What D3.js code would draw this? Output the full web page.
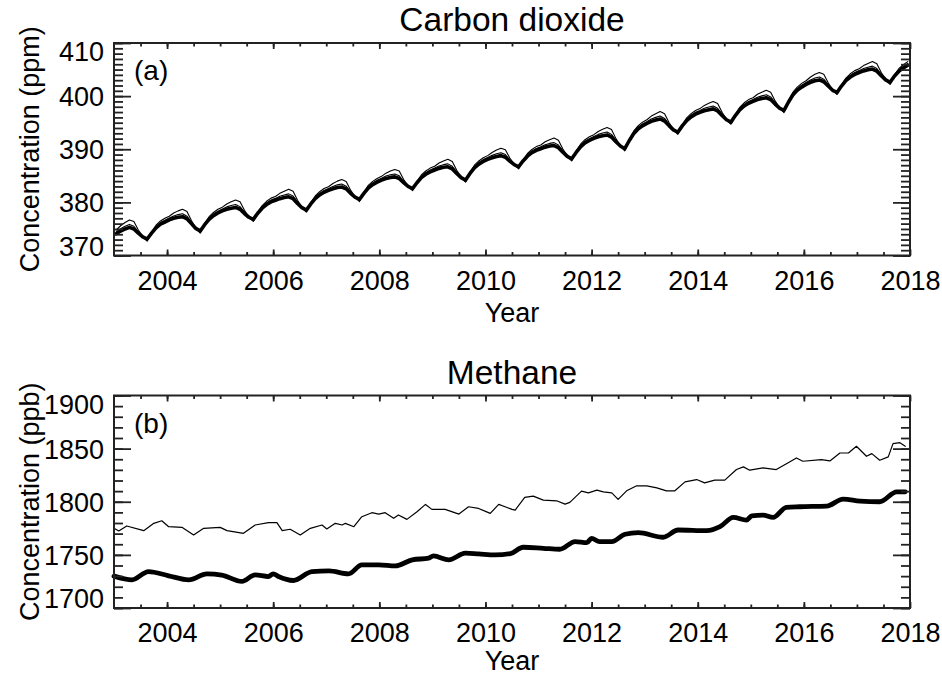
<!DOCTYPE html>
<html>
<head>
<meta charset="utf-8">
<script src="https://cdn.jsdelivr.net/npm/d3@7"></script>
<style>
body{margin:0;background:#fff}
svg text{font-family:"Liberation Sans",Arial,Helvetica,sans-serif;fill:#000}
</style>
</head>
<body>
<svg width="942" height="675"></svg>
<script>
// monthly CO2 (ppm), Jan 2003 .. Dec 2017, one row per year
var co2StartYear = 2003
var co2Thick = [
  374.1,374.6,375.0,375.3,375.0,374.2,373.5,373.1,374.2,375.2,375.9,376.3,
  376.7,377.0,377.2,377.3,376.9,376.0,375.1,374.6,375.8,376.8,377.5,378.0,
  378.4,378.7,378.9,379.05,378.7,377.9,377.2,376.8,377.95,378.9,379.6,380.1,
  380.4,380.7,380.9,381.05,380.7,379.8,379.0,378.55,379.7,380.7,381.4,381.9,
  382.25,382.55,382.8,382.9,382.55,381.7,381.0,380.55,381.7,382.7,383.35,383.8,
  384.2,384.5,384.7,384.8,384.5,383.7,383.0,382.6,383.7,384.65,385.3,385.75,
  386.1,386.4,386.6,386.7,386.3,385.45,384.65,384.2,385.45,386.5,387.2,387.7,
  388.1,388.4,388.65,388.8,388.5,387.75,387.1,386.7,387.8,388.7,389.35,389.8,
  390.1,390.4,390.6,390.7,390.3,389.45,388.65,388.2,389.4,390.45,391.2,391.65,
  392.05,392.35,392.55,392.7,392.3,391.4,390.6,390.1,391.6,392.9,393.8,394.4,
  394.85,395.25,395.5,395.7,395.3,394.45,393.65,393.2,394.4,395.4,396.1,396.6,
  396.95,397.25,397.45,397.6,397.2,396.35,395.55,395.1,396.35,397.4,398.15,398.65,
  399.0,399.35,399.55,399.7,399.35,398.5,397.75,397.3,398.85,400.2,401.1,401.7,
  402.2,402.6,402.9,403.05,402.7,401.9,401.1,400.7,401.9,402.9,403.6,404.1,
  404.45,404.75,404.95,405.1,404.7,403.85,403.05,402.6,403.8,404.7,405.3,405.8
]
var co2ThinHi = [
  374.8,375.6,376.2,376.7,376.4,374.8,373.6,372.7,374.4,375.7,376.5,377.0,
  377.4,378.0,378.4,378.7,378.3,376.6,375.2,374.2,376.0,377.3,378.1,378.7,
  379.1,379.7,380.1,380.45,380.1,378.5,377.3,376.4,378.15,379.4,380.2,380.8,
  381.1,381.7,382.1,382.45,382.1,380.4,379.1,378.15,379.9,381.2,382.0,382.6,
  382.95,383.55,384.0,384.3,383.95,382.3,381.1,380.15,381.9,383.2,383.95,384.5,
  384.9,385.5,385.9,386.2,385.9,384.3,383.1,382.2,383.9,385.15,385.9,386.45,
  386.8,387.4,387.8,388.1,387.7,386.05,384.75,383.8,385.65,387.0,387.8,388.4,
  388.8,389.4,389.85,390.2,389.9,388.35,387.2,386.3,388.0,389.2,389.95,390.5,
  390.8,391.4,391.8,392.1,391.7,390.05,388.75,387.8,389.6,390.95,391.8,392.35,
  392.75,393.35,393.75,394.1,393.7,392.0,390.7,389.7,391.8,393.4,394.4,395.1,
  395.55,396.25,396.7,397.1,396.7,395.05,393.75,392.8,394.6,395.9,396.7,397.3,
  397.65,398.25,398.65,399.0,398.6,396.95,395.65,394.7,396.55,397.9,398.75,399.35,
  399.7,400.35,400.75,401.1,400.75,399.1,397.85,396.9,399.05,400.7,401.7,402.4,
  402.9,403.6,404.1,404.45,404.1,402.5,401.2,400.3,402.1,403.4,404.2,404.8,
  405.15,405.75,406.15,406.5,406.1,404.45,403.15,402.2,404.0,405.2,405.9,406.5
]
var co2ThinMid = [
  374.45,375.05,375.5,375.85,375.5,374.45,373.5,372.85,374.25,375.4,376.2,376.65,
  377.05,377.45,377.7,377.85,377.4,376.25,375.1,374.35,375.85,377.0,377.8,378.35,
  378.75,379.15,379.4,379.6,379.2,378.15,377.2,376.55,378.0,379.1,379.9,380.45,
  380.75,381.15,381.4,381.6,381.2,380.05,379.0,378.3,379.75,380.9,381.7,382.25,
  382.6,383.0,383.3,383.45,383.05,381.95,381.0,380.3,381.75,382.9,383.65,384.15,
  384.55,384.95,385.2,385.35,385.0,383.95,383.0,382.35,383.75,384.85,385.6,386.1,
  386.45,386.85,387.1,387.25,386.8,385.7,384.65,383.95,385.5,386.7,387.5,388.05,
  388.45,388.85,389.15,389.35,389.0,388.0,387.1,386.45,387.85,388.9,389.65,390.15,
  390.45,390.85,391.1,391.25,390.8,389.7,388.65,387.95,389.45,390.65,391.5,392.0,
  392.4,392.8,393.05,393.25,392.8,391.65,390.6,389.85,391.65,393.1,394.1,394.75,
  395.2,395.7,396.0,396.25,395.8,394.7,393.65,392.95,394.45,395.6,396.4,396.95,
  397.3,397.7,397.95,398.15,397.7,396.6,395.55,394.85,396.4,397.6,398.45,399.0,
  399.35,399.8,400.05,400.25,399.85,398.75,397.75,397.05,398.9,400.4,401.4,402.05,
  402.55,403.05,403.4,403.6,403.2,402.15,401.1,400.45,401.95,403.1,403.9,404.45,
  404.8,405.2,405.45,405.65,405.2,404.1,403.05,402.35,403.85,404.9,405.6,406.15
]

// methane (ppb), read at the turning points of each curve
var ch4ThickYear = [2003.0,2003.34,2003.65,2004.03,2004.41,2004.75,2005.03,2005.41,2005.66,2005.91,
  2006.0,2006.1,2006.38,2006.73,2007.05,2007.42,2007.67,2007.99,2008.3,2008.62,2008.93,2009.02,
  2009.31,2009.62,2009.87,2010.18,2010.47,2010.71,2011.09,2011.4,2011.69,2011.91,2012.0,2012.15,
  2012.38,2012.63,2012.88,2013.35,2013.63,2014.17,2014.42,2014.67,2014.92,2015.02,2015.23,2015.42,
  2015.67,2015.92,2016.43,2016.74,2017.06,2017.43,2017.75,2017.91]
var ch4ThickVal = [1730,1726.5,1734.3,1730.3,1726.5,1732.2,1731,1725,1731.2,1729.6,
  1732.2,1729.6,1725.9,1734.3,1735,1732.2,1740.6,1740.6,1739.6,1745.3,1746.9,1749,
  1745.3,1751.6,1750.9,1750,1751.2,1757.2,1756.2,1755.3,1762.5,1761.5,1765.6,1762.5,
  1762.5,1769.4,1770.9,1766.6,1773.4,1772.8,1776.5,1785.3,1782.8,1786.8,1787.5,1785.3,
  1794.7,1795.3,1795.9,1802.5,1800.6,1800,1809.3,1809.3]
var ch4ThinYear = [2003.0,2003.09,2003.24,2003.56,2003.75,2003.9,2004.03,2004.28,2004.5,2004.69,
  2005.0,2005.13,2005.44,2005.66,2005.91,2006.07,2006.17,2006.32,2006.51,2006.7,2006.92,2007.01,
  2007.17,2007.3,2007.36,2007.52,2007.67,2007.86,2007.99,2008.11,2008.27,2008.36,2008.52,2008.71,
  2008.87,2008.99,2009.24,2009.5,2009.68,2009.87,2010.09,2010.25,2010.37,2010.5,2010.56,2010.74,
  2010.9,2011.09,2011.34,2011.5,2011.59,2011.81,2011.94,2012.1,2012.22,2012.38,2012.5,2012.66,
  2012.85,2013.04,2013.23,2013.41,2013.57,2013.76,2013.98,2014.13,2014.32,2014.51,2014.73,2014.86,
  2014.98,2015.23,2015.48,2015.73,2015.86,2015.98,2016.33,2016.49,2016.68,2016.84,2016.99,2017.18,
  2017.28,2017.43,2017.59,2017.68,2017.81,2017.91]
var ch4ThinVal = [1775,1772.5,1777.2,1772.8,1779.7,1782.1,1776.5,1775.9,1768.7,1775,
  1775.9,1772.8,1770.3,1778.1,1780.3,1780.3,1772.8,1774.1,1768.7,1775,1778.1,1774.4,
  1779.7,1778.1,1779.7,1776.5,1785.9,1789.7,1788.4,1789.7,1784.4,1787.5,1783.4,1790.6,
  1797.5,1792.8,1792.8,1788.4,1795.3,1793.7,1789.1,1797.5,1795.3,1792.8,1792.2,1804.1,
  1805.3,1801.5,1800.9,1797.8,1799.4,1810,1808.4,1810.9,1809.3,1808.4,1802.2,1810.3,
  1815,1815,1813.1,1810.3,1810.3,1818.7,1820.9,1817.8,1820.3,1820.3,1830.3,1832.8,
  1829.7,1831.9,1830.3,1837.5,1841.2,1838.1,1839.7,1838.4,1845.9,1845.9,1852.2,1842.8,
  1845.3,1839.1,1842.2,1854.7,1855.6,1852.2]

var yearTicks = [2004,2006,2008,2010,2012,2014,2016,2018]
var co2Ticks = [370,380,390,400,410]
var ch4Ticks = [1700,1750,1800,1850,1900]

var svg = d3.select('svg')
var left = 114, right = 910

var x = d3.scaleLinear().domain([2003,2018]).range([left,right])

var pts = function(years, vals){
  return years.map(function(d,i){return [d, vals[i]]})
}
var monthly = function(vals){
  return vals.map(function(v,i){return [co2StartYear + (i+0.5)/12, v]})
}

var drawPanel = function(opt){
  var y = d3.scaleLinear().domain(opt.domain).range([opt.bottom, opt.top])
  var g = svg.append('g')

  // title and panel letter
  g.append('text').attr('x',512).attr('y',opt.top-12)
    .attr('text-anchor','middle').style('font-size','33.5px').text(opt.title)
  g.append('text').attr('x',134).attr('y',opt.top+37)
    .style('font-size','28px').text(opt.letter)

  // curves
  var line = d3.line().x(function(d){return x(d[0])}).y(function(d){return y(d[1])})
  opt.series.forEach(function(s){
    g.append('path').datum(s.data)
      .attr('fill','none').attr('stroke','#000')
      .attr('stroke-width',s.w).attr('stroke-linejoin','round').attr('stroke-linecap','round')
      .attr('d', line.curve(s.curve || d3.curveLinear))
  })

  var clean = function(a){a.select('.domain').remove(); a.style('color','#222')}
  var minorY = d3.range(opt.domain[0],opt.domain[1]+0.01,opt.minor)
  var minorX = d3.range(2003.5,2018,0.5)

  // y axes, ticks pointing inward; end labels pulled inside the frame
  var yl = g.append('g').attr('transform','translate('+left+',0)')
    .call(d3.axisLeft(y).tickValues(opt.yTicks).tickSize(-17).tickPadding(10).tickFormat(d3.format('d')))
  clean(yl)
  yl.selectAll('text').style('font-size','27px')
    .attr('dy', function(d){
      if (d == opt.domain[1]) return '17.5px'
      if (d == opt.domain[0]) return '-0.5px'
      return '9.6px'})
  g.append('g').attr('transform','translate('+left+',0)')
    .call(d3.axisLeft(y).tickValues(minorY).tickSize(-9).tickFormat(''))
    .call(clean)
  g.append('g').attr('transform','translate('+right+',0)')
    .call(d3.axisRight(y).tickValues(opt.yTicks).tickSize(-17).tickFormat(''))
    .call(clean)
  g.append('g').attr('transform','translate('+right+',0)')
    .call(d3.axisRight(y).tickValues(minorY).tickSize(-9).tickFormat(''))
    .call(clean)

  // x axes
  var xb = g.append('g').attr('transform','translate(0,'+opt.bottom+')')
    .call(d3.axisBottom(x).tickValues(yearTicks).tickSize(-6).tickPadding(15).tickFormat(d3.format('d')))
  clean(xb)
  xb.selectAll('text').style('font-size','27px')
  g.append('g').attr('transform','translate(0,'+opt.bottom+')')
    .call(d3.axisBottom(x).tickValues(minorX).tickSize(-3.5).tickFormat(''))
    .call(clean)
  g.append('g').attr('transform','translate(0,'+opt.top+')')
    .call(d3.axisTop(x).tickValues(yearTicks).tickSize(-6).tickFormat(''))
    .call(clean)
  g.append('g').attr('transform','translate(0,'+opt.top+')')
    .call(d3.axisTop(x).tickValues(minorX).tickSize(-3.5).tickFormat(''))
    .call(clean)
  g.selectAll('.tick line').attr('stroke-width',1.8)

  // frame
  g.append('rect').attr('x',left).attr('y',opt.top)
    .attr('width',right-left).attr('height',opt.bottom-opt.top)
    .attr('fill','none').attr('stroke','#222').attr('stroke-width',2)

  // axis titles
  g.append('text').attr('x',512).attr('y',opt.bottom+opt.yearGap)
    .attr('text-anchor','middle').style('font-size','27px').text('Year')
  g.append('text')
    .attr('transform','translate(38.5,'+((opt.top+opt.bottom)/2)+') rotate(-90)')
    .attr('text-anchor','middle').style('font-size','27px').text(opt.ylabel)
}

drawPanel({
  title:'Carbon dioxide', letter:'(a)', ylabel:'Concentration (ppm)',
  top:43, bottom:255.5, domain:[370,410], yTicks:co2Ticks, minor:1, yearGap:66,
  series:[
    {data:monthly(co2ThinHi), w:1.1},
    {data:monthly(co2ThinMid), w:1.1},
    {data:monthly(co2Thick), w:3.6}
  ]
})

drawPanel({
  title:'Methane', letter:'(b)', ylabel:'Concentration (ppb)',
  top:395.5, bottom:608, domain:[1700,1900], yTicks:ch4Ticks, minor:10, yearGap:62,
  series:[
    {data:pts(ch4ThinYear, ch4ThinVal), w:1.2},
    {data:pts(ch4ThickYear, ch4ThickVal), w:4.8, curve:d3.curveMonotoneX}
  ]
})
</script>
</body>
</html>
